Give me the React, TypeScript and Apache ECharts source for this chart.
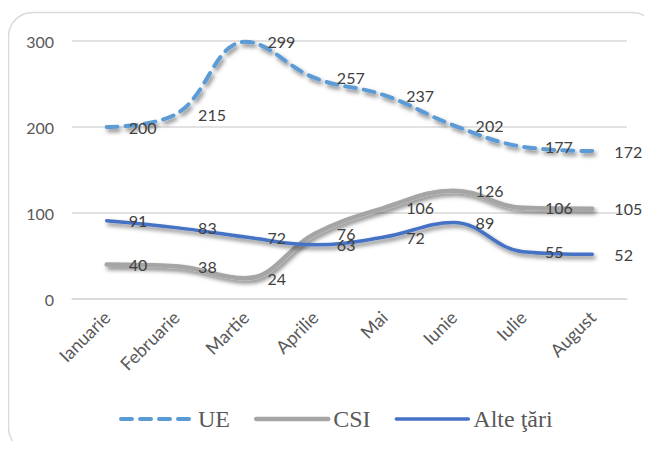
import React, { useEffect, useRef } from "react";
import * as echarts from "echarts";

const categories = ["Ianuarie", "Februarie", "Martie", "Aprilie", "Mai", "Iunie", "Iulie", "August"];
const ueValues = [200, 215, 299, 257, 237, 202, 177, 172];
const csiValues = [40, 38, 24, 76, 106, 126, 106, 105];
const alteValues = [91, 83, 72, 63, 72, 89, 55, 52];
const seriesNames = ["UE", "CSI", "Alte ţări"];

const LABEL_FONT = "Lato, 'Noto Sans', sans-serif";

export default function App() {
  const ref = useRef<HTMLDivElement>(null);
  useEffect(() => {
    if (!ref.current) return;
    const chart = echarts.init(ref.current, undefined, { renderer: "svg" });
    const shadow = {
      shadowColor: "rgba(0,0,0,0.5)",
      shadowBlur: 4,
      shadowOffsetX: 2,
      shadowOffsetY: 3,
    };
    const label = {
      show: true,
      position: "right",
      distance: 22,
      color: "#404040",
      fontSize: 16,
      fontFamily: LABEL_FONT,
    };
    const styles: Record<string, { color: string; width: number; type: any }> = {
      UE: { color: "#5B9BD5", width: 4, type: [11, 8] },
      CSI: { color: "#A5A5A5", width: 4.5, type: "solid" },
      "Alte ţări": { color: "#4472C4", width: 3.5, type: "solid" },
    };
    const mk = (name: string, data: number[]) => {
      const s = styles[name];
      return {
        name,
        type: "line",
        data,
        smooth: 0.4,
        symbol: "circle",
        symbolSize: 0.1,
        showSymbol: true,
        color: s.color,
        itemStyle: { color: s.color },
        lineStyle: { color: s.color, width: s.width, type: s.type, cap: "round", ...shadow },
        label,
        labelLayout: { hideOverlap: false },
      };
    };
    chart.setOption({
      animation: false,
      graphic: [
        {
          type: "rect",
          z: -1,
          shape: { x: 0.5, y: 4.5, width: 648, height: 439, r: 24 },
          style: { fill: "none", stroke: "#D9D9D9", lineWidth: 1.5 },
        },
      ],
      grid: { left: 64, right: 25, top: 33, bottom: 150 },
      xAxis: {
        type: "category",
        data: categories,
        boundaryGap: true,
        axisLine: { show: true, lineStyle: { color: "#D9D9D9", width: 1.5 } },
        axisTick: { show: false },
        axisLabel: {
          rotate: 45,
          margin: 15,
          color: "#595959",
          fontSize: 18,
          fontFamily: LABEL_FONT,
          interval: 0,
        },
      },
      yAxis: {
        type: "value",
        min: 0,
        max: 300,
        interval: 100,
        axisLine: { show: false },
        axisTick: { show: false },
        splitLine: { lineStyle: { color: "#D9D9D9", width: 1.5 } },
        axisLabel: {
          margin: 18,
          color: "#595959",
          fontSize: 16,
          fontFamily: LABEL_FONT,
        },
      },
      legend: {
        data: seriesNames.map((n) => ({
          name: n,
          itemStyle: { opacity: 0 },
          lineStyle: { width: styles[n].width, type: styles[n].type, cap: "round", shadowBlur: 0, shadowOffsetX: 0, shadowOffsetY: 0 },
        })),
        left: 106,
        top: 394,
        itemWidth: 72,
        itemHeight: 14,
        itemGap: 24,
        textStyle: {
          color: "#595959",
          fontSize: 24,
          fontFamily: "'Liberation Serif', 'Times New Roman', serif",
        },
      },
      series: [
        mk(seriesNames[0], ueValues),
        mk(seriesNames[1], csiValues),
        mk(seriesNames[2], alteValues),
      ],
    });
    return () => chart.dispose();
  }, []);
  return (
    <div style={{ width: 644, height: 433 }}>
      <div ref={ref} style={{ width: 644, height: 441 }} />
    </div>
  );
}
